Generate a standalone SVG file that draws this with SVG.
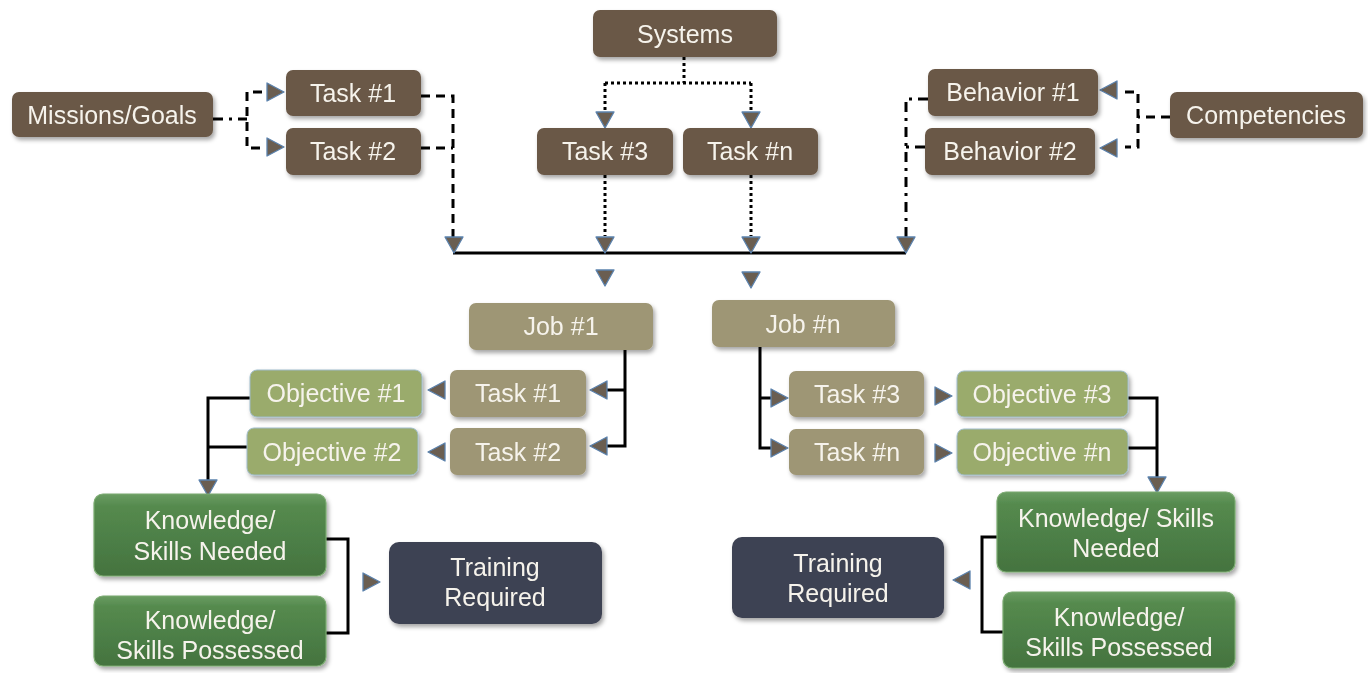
<svg xmlns="http://www.w3.org/2000/svg" width="1368" height="673" viewBox="0 0 1368 673">
<defs>
<filter id="sh" x="-10%" y="-20%" width="130%" height="150%">
<feDropShadow dx="2" dy="3" stdDeviation="2.2" flood-color="#000" flood-opacity="0.35"/>
</filter>
<linearGradient id="gk" x1="0" y1="0" x2="0" y2="1">
<stop offset="0" stop-color="#6a9c62"/>
<stop offset="0.15" stop-color="#558a4e"/>
<stop offset="0.6" stop-color="#4c7e46"/>
<stop offset="1" stop-color="#44733f"/>
</linearGradient>
<style>
.n{filter:url(#sh)}
.br{fill:#6a5847}
.ol{fill:#9e9674}
.lg{fill:#9aab6c;stroke:#9fbccb;stroke-width:1}
.kg{fill:url(#gk);stroke:#7aaa70;stroke-width:1.2}
.dk{fill:#3e4252}
text{font-family:"Liberation Sans",Arial,sans-serif;font-size:25px;fill:#f6f3ec;text-anchor:middle}
.c path{fill:none;stroke:#000;stroke-width:3}
.c .da{stroke-dasharray:9 6}
.c .dd{stroke-dasharray:10 6 3 6}
.c .dt{stroke-dasharray:3 3}
.ah{fill:#6a5e51;stroke:#5b82ad;stroke-width:1.3;stroke-linejoin:round}
</style>
</defs>
<rect width="1368" height="673" fill="#ffffff"/>

<g id="connectors" class="c">
<path class="dd" d="M213,119 H247"/>
<path class="da" d="M262,92 H247 V148 H262"/>
<path class="da" d="M421,96 H453 V238 M421,148 H453"/>
<path class="dt" d="M684,57 V83 M605,83 H751 M605,83 V113 M751,83 V113"/>
<path class="dt" d="M605,175 V236 M751,175 V236"/>
<path d="M453,253 H906"/>
<path class="dd" d="M928,99 H906 V238 M925,147 H906"/>
<path class="da" d="M1170,117 H1138 M1125,92 H1138 V147 H1125"/>
<path d="M625,350 V446 H607 M625,390 H607"/>
<path d="M250,398 H208 V480 M247,447 H208"/>
<path d="M760,347 V448 H772 M760,398 H772"/>
<path d="M1128,398 H1157 V478 M1128,448 H1157"/>
<path d="M326,539 H348 V633 H326"/>
<path d="M1000,537 H982 V632 H1003"/>
<!-- arrowheads -->
<polygon class="ah" points="267,83 284,92 267,101"/>
<polygon class="ah" points="267,138 284,147 267,156"/>
<polygon class="ah" points="445,237 463,237 454,253"/>
<polygon class="ah" points="596,112 614,112 605,128"/>
<polygon class="ah" points="742,112 760,112 751,128"/>
<polygon class="ah" points="596,237 614,237 605,253"/>
<polygon class="ah" points="742,237 760,237 751,253"/>
<polygon class="ah" points="596,270 614,270 605,286"/>
<polygon class="ah" points="742,272 760,272 751,288"/>
<polygon class="ah" points="897,237 915,237 906,253"/>
<polygon class="ah" points="1117,81 1100,90 1117,99"/>
<polygon class="ah" points="1117,139 1100,148 1117,157"/>
<polygon class="ah" points="607,381 590,390 607,399"/>
<polygon class="ah" points="607,437 590,446 607,455"/>
<polygon class="ah" points="445,381 428,390 445,399"/>
<polygon class="ah" points="445,443 428,452 445,461"/>
<polygon class="ah" points="199,480 217,480 208,496"/>
<polygon class="ah" points="771,389 788,398 771,407"/>
<polygon class="ah" points="771,439 788,448 771,457"/>
<polygon class="ah" points="935,387 952,396 935,405"/>
<polygon class="ah" points="935,444 952,453 935,462"/>
<polygon class="ah" points="1148,477 1166,477 1157,493"/>
<polygon class="ah" points="363,573 380,582 363,591"/>
<polygon class="ah" points="970,571 953,580 970,589"/>
</g>

<g id="systems" class="n"><rect class="br" x="593" y="10" width="184" height="47" rx="7"/><text x="685" y="43">Systems</text></g>
<g id="missions" class="n"><rect class="br" x="12" y="92" width="201" height="45" rx="7"/><text x="112" y="124">Missions/Goals</text></g>
<g id="task1top" class="n"><rect class="br" x="286" y="70" width="135" height="46" rx="7"/><text x="353" y="102">Task #1</text></g>
<g id="task2top" class="n"><rect class="br" x="286" y="128" width="135" height="47" rx="7"/><text x="353" y="160">Task #2</text></g>
<g id="task3top" class="n"><rect class="br" x="537" y="128" width="136" height="47" rx="7"/><text x="605" y="160">Task #3</text></g>
<g id="taskntop" class="n"><rect class="br" x="683" y="128" width="135" height="47" rx="7"/><text x="750" y="160">Task #n</text></g>
<g id="behavior1" class="n"><rect class="br" x="928" y="69" width="170" height="47" rx="7"/><text x="1013" y="101">Behavior #1</text></g>
<g id="behavior2" class="n"><rect class="br" x="925" y="128" width="170" height="47" rx="7"/><text x="1010" y="160">Behavior #2</text></g>
<g id="competencies" class="n"><rect class="br" x="1170" y="92" width="193" height="46" rx="7"/><text x="1266" y="124">Competencies</text></g>

<g id="job1" class="n"><rect class="ol" x="469" y="303" width="184" height="47" rx="7"/><text x="561" y="335">Job #1</text></g>
<g id="jobn" class="n"><rect class="ol" x="712" y="300" width="183" height="47" rx="7"/><text x="803" y="333">Job #n</text></g>
<g id="task1" class="n"><rect class="ol" x="450" y="370" width="136" height="47" rx="7"/><text x="518" y="402">Task #1</text></g>
<g id="task2" class="n"><rect class="ol" x="450" y="428" width="136" height="47" rx="7"/><text x="518" y="461">Task #2</text></g>
<g id="task3" class="n"><rect class="ol" x="789" y="371" width="135" height="46" rx="7"/><text x="857" y="403">Task #3</text></g>
<g id="taskn" class="n"><rect class="ol" x="789" y="429" width="135" height="46" rx="7"/><text x="857" y="461">Task #n</text></g>

<g id="objective1" class="n"><rect class="lg" x="250" y="370" width="172" height="47" rx="7"/><text x="336" y="402">Objective #1</text></g>
<g id="objective2" class="n"><rect class="lg" x="247" y="428" width="171" height="47" rx="7"/><text x="332" y="461">Objective #2</text></g>
<g id="objective3" class="n"><rect class="lg" x="957" y="371" width="171" height="46" rx="7"/><text x="1042" y="403">Objective #3</text></g>
<g id="objectiven" class="n"><rect class="lg" x="957" y="429" width="171" height="46" rx="7"/><text x="1042" y="461">Objective #n</text></g>

<g id="ksneeded1" class="n"><rect class="kg" x="94" y="494" width="232" height="82" rx="9"/><text x="210" y="529">Knowledge/</text><text x="210" y="560">Skills Needed</text></g>
<g id="kspossessed1" class="n"><rect class="kg" x="94" y="596" width="232" height="70" rx="9"/><text x="210" y="629">Knowledge/</text><text x="210" y="659">Skills Possessed</text></g>
<g id="training1" class="n"><rect class="dk" x="389" y="542" width="213" height="82" rx="10"/><text x="495" y="576">Training</text><text x="495" y="606">Required</text></g>

<g id="training2" class="n"><rect class="dk" x="732" y="537" width="212" height="81" rx="10"/><text x="838" y="572">Training</text><text x="838" y="602">Required</text></g>
<g id="ksneeded2" class="n"><rect class="kg" x="997" y="492" width="238" height="80" rx="9"/><text x="1116" y="527">Knowledge/ Skills</text><text x="1116" y="557">Needed</text></g>
<g id="kspossessed2" class="n"><rect class="kg" x="1003" y="592" width="232" height="76" rx="9"/><text x="1119" y="626">Knowledge/</text><text x="1119" y="656">Skills Possessed</text></g>
</svg>
